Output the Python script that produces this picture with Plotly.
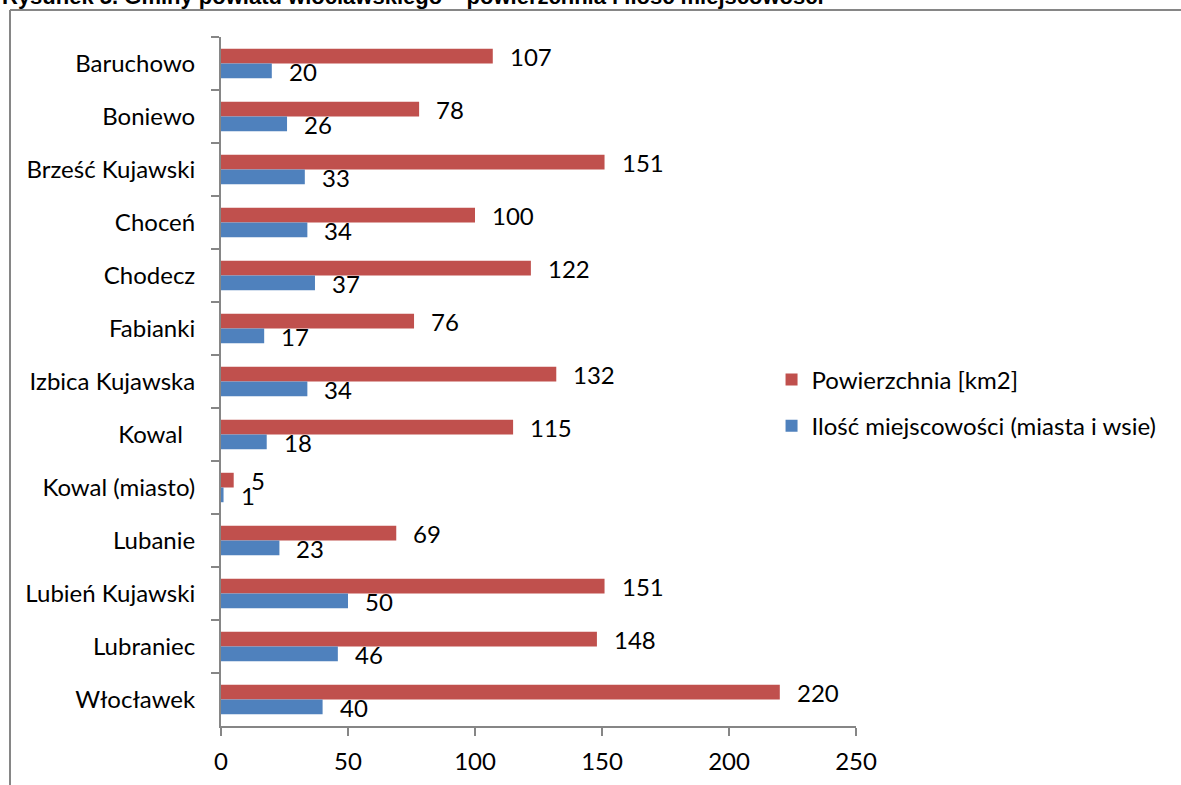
import plotly.graph_objects as go

categories = ["Baruchowo", "Boniewo", "Brześć Kujawski", "Choceń", "Chodecz", "Fabianki",
              "Izbica Kujawska", "Kowal\u00a0\u00a0", "Kowal (miasto)", "Lubanie",
              "Lubień Kujawski", "Lubraniec", "Włocławek"]
powierzchnia = [107, 78, 151, 100, 122, 76, 132, 115, 5, 69, 151, 148, 220]
miejscowosci = [20, 26, 33, 34, 37, 17, 34, 18, 1, 23, 50, 46, 40]
x_ticks = [0, 50, 100, 150, 200, 250]

RED = "#C0504D"
BLUE = "#4F81BD"
FONT = "Lato"
FS = 24

W, H = 1181, 785
L, R, T, B = 221, 325, 37, 59
PW, PH = W - L - R, H - T - B

fig = go.Figure()
fig.add_trace(go.Bar(y=categories, x=powierzchnia, orientation="h",
                     name="Powierzchnia [km2]", marker_color=RED,
                     marker_line_width=0, legendgroup="a"))
fig.add_trace(go.Bar(y=categories, x=miejscowosci, orientation="h",
                     name="Ilość miejscowości (miasta i wsie)", marker_color=BLUE,
                     marker_line_width=0, legendgroup="b"))

ann = []
for c, v in zip(categories, powierzchnia):
    ann.append(dict(x=v, y=c, xref="x", yref="y", text=str(v), showarrow=False,
                    xanchor="left", yanchor="middle", xshift=15, yshift=7.5,
                    font=dict(family=FONT, size=FS, color="#000")))
for c, v in zip(categories, miejscowosci):
    ann.append(dict(x=v, y=c, xref="x", yref="y", text=str(v), showarrow=False,
                    xanchor="left", yanchor="middle", xshift=15, yshift=-7.5,
                    font=dict(family=FONT, size=FS, color="#000")))

# title (cut off at top of image)
ann.append(dict(x=(0 - L) / PW, y=1 + (T + 4) / PH, xref="paper", yref="paper",
                text="<b>Rysunek 5. Gminy powiatu włocławskiego – powierzchnia i ilość miejscowości</b>",
                showarrow=False, xanchor="left", yanchor="middle",
                font=dict(family="Liberation Sans", size=22, color="#000")))

shapes = [
    dict(type="line", xref="paper", yref="paper",
         x0=(10 - L) / PW, x1=(10 - L) / PW, y0=1 + (T - 10) / PH, y1=-(B + 10) / PH,
         line=dict(color="#868686", width=2)),
    dict(type="line", xref="paper", yref="paper",
         x0=(10 - L) / PW, x1=1 + (R + 10) / PW, y0=1 + (T - 10) / PH, y1=1 + (T - 10) / PH,
         line=dict(color="#868686", width=2)),
]

fig.update_layout(
    width=W, height=H,
    margin=dict(l=L, r=R, t=T, b=B, pad=0, autoexpand=False),
    paper_bgcolor="white", plot_bgcolor="white",
    barmode="group", bargap=0.444, bargroupgap=0,
    font=dict(family=FONT, size=FS, color="#000"),
    showlegend=True,
    legend=dict(x=0.867, y=0.469, xanchor="left", yanchor="middle",
                traceorder="grouped", tracegroupgap=12,
                font=dict(family=FONT, size=FS, color="#000"),
                bgcolor="rgba(0,0,0,0)"),
    annotations=ann, shapes=shapes,
    xaxis=dict(range=[0, 250], tickvals=x_ticks, ticktext=[str(t) for t in x_ticks],
               showgrid=False, zeroline=False, showline=True, linecolor="#868686",
               linewidth=2, ticks="outside", ticklen=8, tickcolor="#868686", tickwidth=2,
               automargin=False,
               ticklabelstandoff=5, tickfont=dict(family=FONT, size=FS, color="#000")),
    yaxis=dict(autorange="reversed", type="category", showgrid=False, zeroline=False,
               showline=True, linecolor="#868686", linewidth=2, ticks="outside",
               ticklen=8, tickcolor="#868686", tickwidth=2, tickson="boundaries",
               automargin=False,
               ticklabelstandoff=19, tickfont=dict(family=FONT, size=FS, color="#000")),
)

fig.write_html("out.html", config={"displayModeBar": False},
               post_script="document.body.style.margin='0';")
